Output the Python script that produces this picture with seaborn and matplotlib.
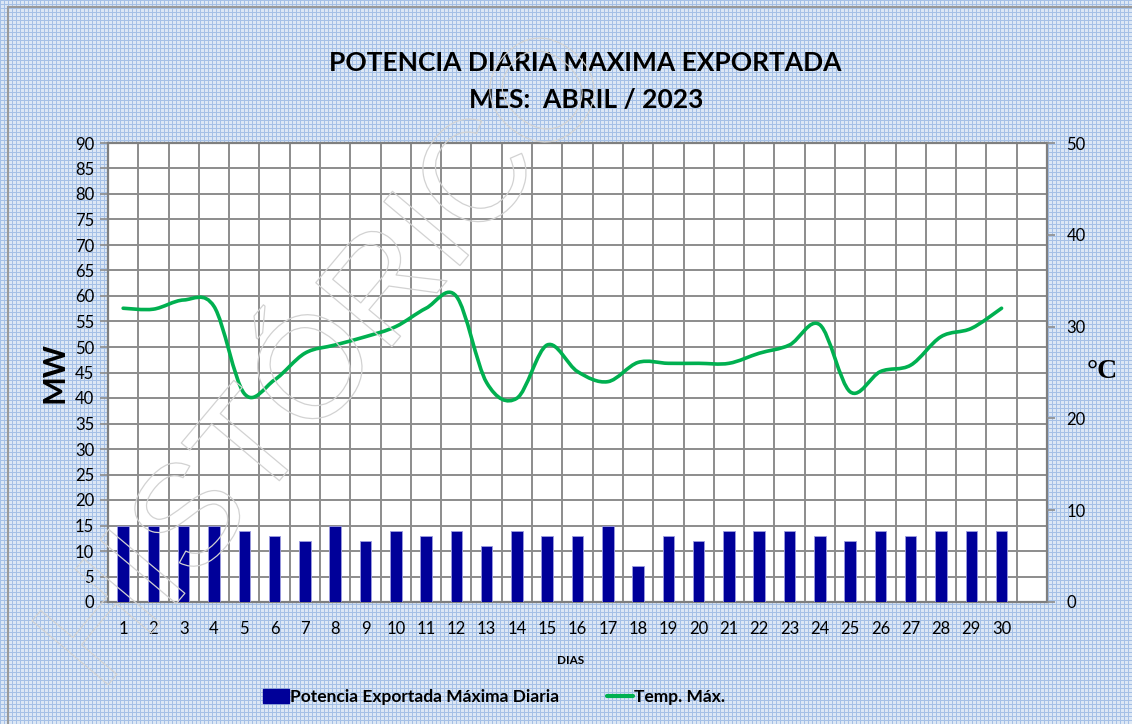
import matplotlib
matplotlib.use('Agg')
import numpy as np
import pandas as pd
import matplotlib.pyplot as plt
import seaborn as sns
from matplotlib.path import Path
from matplotlib.patches import PathPatch, Patch, Rectangle
from matplotlib.lines import Line2D
import matplotlib.patheffects as pe

# datos
dias = list(range(1, 31))
potencia_mw = [15, 15, 15, 15, 14, 13, 12, 15, 12, 14, 13, 14, 11, 14, 13,
               13, 15, 7, 13, 12, 14, 14, 14, 13, 12, 14, 13, 14, 14, 14]
temp_max = [32.0, 31.9, 32.9, 32.2, 22.7, 24.2, 27.1, 28.0, 28.9, 30.0,
            32.0, 33.3, 23.9, 22.2, 28.0, 25.1, 24.0, 26.1, 26.0, 26.0,
            26.0, 27.1, 28.0, 30.2, 22.9, 25.1, 25.8, 28.9, 29.8, 32.0]
mw_ticks = list(range(0, 91, 5))
temp_ticks = list(range(0, 51, 10))

df = pd.DataFrame({'Dia': dias, 'MW': potencia_mw, 'Temp': temp_max})

sns.set_style('white')
plt.rcParams['font.family'] = ['Lato', 'DejaVu Sans']
plt.rcParams['text.color'] = 'black'
plt.rcParams['xtick.color'] = 'black'
plt.rcParams['ytick.color'] = 'black'

BG = '#c6d6ec'
GRID = '#8c8c8c'
BAR = '#000099'
GREEN = '#00b050'

fig = plt.figure(figsize=(11.32, 7.24), dpi=100, facecolor=BG)

# fondo con textura de cuadricula (como el relleno de Excel)
h, w = 724, 1132
tex = np.empty((h, w, 3))
tex[:] = np.array([220, 231, 245]) / 255
linea = np.array([165, 192, 230]) / 255
tex[::4, :] = linea
tex[:, ::4] = linea
fig.figimage(tex, 0, 0, zorder=-10)

# borde del area del grafico
fig.patches.append(Rectangle((8 / 1132, -0.01), 1.02, 1 - 7 / 724 + 0.01,
                             transform=fig.transFigure, fill=False,
                             edgecolor='#9a9a9a', lw=1.5, zorder=-5))

ax = fig.add_axes([108 / 1132, 1 - 602 / 724, (1047 - 108) / 1132, (602 - 143) / 724])
ax.set_facecolor('white')

sns.barplot(data=df, x='Dia', y='MW', color=BAR, width=0.38, saturation=1,
            edgecolor='#9c9ce0', linewidth=0.6, ax=ax, zorder=3)

ax.set_xlim(-0.5, 30.5)
ax.set_ylim(0, 90)
ax.set_yticks(mw_ticks)
ax.set_xticks(range(len(dias)))
ax.set_xticklabels([str(d) for d in dias])
ax.set_xticks(np.arange(-0.5, 31, 1), minor=True)
ax.set_axisbelow(True)
ax.yaxis.grid(True, color=GRID, lw=1.4, zorder=0)
ax.xaxis.grid(True, which='minor', color=GRID, lw=1.4, zorder=0)
ax.xaxis.grid(False, which='major')
ax.tick_params(axis='x', which='major', length=0, pad=14, labelsize=12)
ax.tick_params(axis='x', which='minor', length=6, color=GRID, width=1.2)
ax.tick_params(axis='y', length=6, color=GRID, width=1.2, pad=4, labelsize=12)
for s in ax.spines.values():
    s.set_color('#7f7f7f')
    s.set_linewidth(1.6)
ax.set_xlabel('')
ax.set_ylabel('')

# eje derecho: temperatura maxima con suavizado tipo Excel (Bezier)
ax2 = ax.twinx()
ax2.set_ylim(0, 50)
ax2.set_yticks(temp_ticks)
ax2.tick_params(axis='y', length=6, color=GRID, width=1.2, pad=8, labelsize=12)
for s in ax2.spines.values():
    s.set_visible(False)

xs = np.arange(len(temp_max), dtype=float)
ys = np.array(temp_max)
verts = [(xs[0], ys[0])]
codes = [Path.MOVETO]
n = len(xs)
for i in range(n - 1):
    i0 = max(i - 1, 0)
    i3 = min(i + 2, n - 1)
    c1 = (xs[i] + (xs[i + 1] - xs[i0]) / 6, ys[i] + (ys[i + 1] - ys[i0]) / 6)
    c2 = (xs[i + 1] - (xs[i3] - xs[i]) / 6, ys[i + 1] - (ys[i3] - ys[i]) / 6)
    verts += [c1, c2, (xs[i + 1], ys[i + 1])]
    codes += [Path.CURVE4] * 3
ax2.add_patch(PathPatch(Path(verts, codes), facecolor='none', edgecolor=GREEN,
                        lw=2.6, capstyle='round', joinstyle='round', zorder=4))

# textos
fig.text(585 / 1132, 1 - 63 / 724, 'POTENCIA DIARIA MAXIMA EXPORTADA', ha='center',
         va='center', fontsize=19, fontweight='bold')
fig.text(586 / 1132, 1 - 100 / 724, 'MES:  ABRIL / 2023', ha='center',
         va='center', fontsize=19, fontweight='bold')
fig.text(55 / 1132, 1 - 373 / 724, 'MW', rotation=90, ha='center', va='center',
         fontsize=22, fontweight='bold')
fig.text(1102 / 1132, 1 - 372 / 724, '°C', ha='center', va='center',
         fontsize=20, fontweight='bold', family=['Liberation Serif', 'DejaVu Serif'])
fig.text(571 / 1132, 1 - 660 / 724, 'DIAS', ha='center', va='center',
         fontsize=8.5, fontweight='bold')

# marca de agua
fig.text(330 / 1132, 1 - 362 / 724, 'HISTÓRICO', rotation=50, ha='center', va='center',
         fontsize=104, color='none', family=['Liberation Sans', 'DejaVu Sans'],
         path_effects=[pe.Stroke(linewidth=0.9, foreground='#d2d2d2')], zorder=10)

handles = [Patch(facecolor=BAR, edgecolor=BAR),
           Line2D([0], [0], color=GREEN, lw=3)]
leg = fig.legend(handles, ['Potencia Exportada Máxima Diaria', 'Temp. Máx.'],
                 loc='center', bbox_to_anchor=(494 / 1132, 1 - 697 / 724), ncol=2,
                 frameon=False, handlelength=1.5, handleheight=0.9,
                 handletextpad=0.1, columnspacing=2.7,
                 prop={'weight': 'bold', 'size': 12.5})

fig.savefig('out.png', dpi=100, facecolor=BG)
